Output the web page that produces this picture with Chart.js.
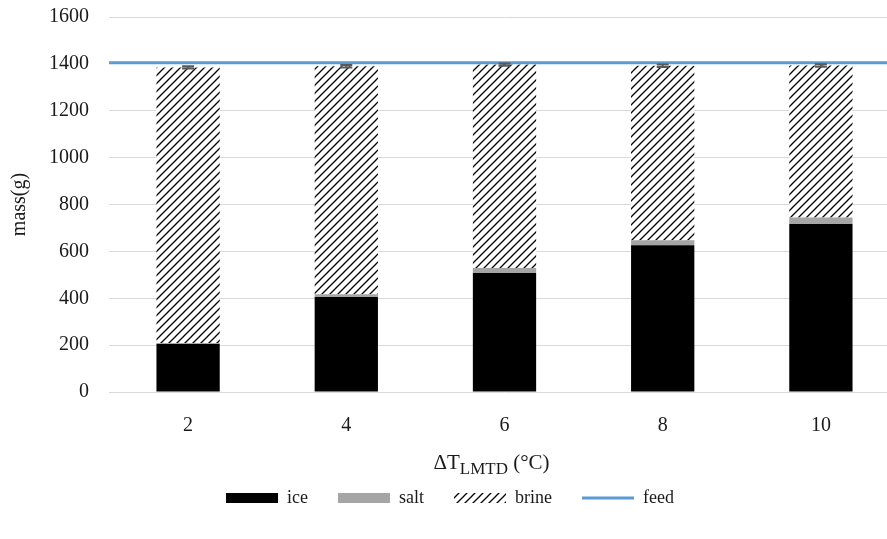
<!DOCTYPE html>
<html>
<head>
<meta charset="utf-8">
<script src="https://cdn.jsdelivr.net/npm/chart.js@4"></script>
<style>
  body { margin: 0; background: #fff; overflow: hidden; }
  #wrap { width: 900px; height: 539px; }
</style>
</head>
<body>
<div id="wrap"><canvas id="chart" width="900" height="539"></canvas></div>
<script>
// data
const categories = ['2', '4', '6', '8', '10'];
const ice = [205, 405, 508, 626, 717];
const salt = [4, 12, 21, 21, 28];
const brine = [1176, 973, 868, 745, 648];
const errors = [5, 5, 5, 5, 5];
const feed = 1405;
const yTicks = [0, 200, 400, 600, 800, 1000, 1200, 1400, 1600];

const serif = "'Liberation Serif', 'Times New Roman', serif";

// hatch for the brine part
function makeHatch() {
  const c = document.createElement('canvas');
  c.width = 8; c.height = 8;
  const g = c.getContext('2d');
  g.fillStyle = '#fff';
  g.fillRect(0, 0, 8, 8);
  g.strokeStyle = '#000';
  g.lineWidth = 1.3;
  g.beginPath();
  g.moveTo(-1, 9); g.lineTo(9, -1);
  g.moveTo(-1, 1); g.lineTo(1, -1);
  g.moveTo(7, 9); g.lineTo(9, 7);
  g.stroke();
  return g.createPattern(c, 'repeat');
}
const hatch = makeHatch();

// little error bars on top of each stack
const errorBars = {
  id: 'errorBars',
  afterDatasetsDraw(chart) {
    const ctx = chart.ctx;
    const y = chart.scales.y;
    const meta = chart.getDatasetMeta(2);
    ctx.save();
    ctx.strokeStyle = '#595959';
    ctx.lineWidth = 2;
    meta.data.forEach((bar, i) => {
      const total = ice[i] + salt[i] + brine[i];
      const top = y.getPixelForValue(total + errors[i]);
      const bot = y.getPixelForValue(total - errors[i]);
      ctx.beginPath();
      ctx.moveTo(bar.x, top); ctx.lineTo(bar.x, bot);
      ctx.moveTo(bar.x - 6, top); ctx.lineTo(bar.x + 6, top);
      ctx.moveTo(bar.x - 6, bot); ctx.lineTo(bar.x + 6, bot);
      ctx.stroke();
    });
    ctx.restore();
  }
};

// x axis title with the LMTD subscript
const xTitle = {
  id: 'xTitle',
  afterDraw(chart) {
    const ctx = chart.ctx;
    const a = chart.chartArea;
    const parts = [['ΔT', 21, 0], ['LMTD', 17, 5], [' (°C)', 21, 0]];
    let w = 0;
    parts.forEach(p => { ctx.font = p[1] + 'px ' + serif; w += ctx.measureText(p[0]).width; });
    let x = (a.left + a.right) / 2 - 13 - w / 2;
    const yBase = 469;
    ctx.save();
    ctx.fillStyle = '#1a1a1a';
    ctx.textBaseline = 'alphabetic';
    parts.forEach(p => {
      ctx.font = p[1] + 'px ' + serif;
      ctx.fillText(p[0], x, yBase + p[2]);
      x += ctx.measureText(p[0]).width;
    });
    ctx.restore();
  }
};

new Chart(document.getElementById('chart'), {
  data: {
    labels: categories,
    datasets: [
      { type: 'bar', label: 'ice', data: ice, backgroundColor: '#000000', stack: 's' },
      { type: 'bar', label: 'salt', data: salt, backgroundColor: '#a5a5a5', stack: 's' },
      { type: 'bar', label: 'brine', data: brine, backgroundColor: hatch, stack: 's' },
      {
        type: 'line', label: 'feed', xAxisID: 'x2', stack: 'feed', order: -1,
        data: [{ x: 0, y: feed }, { x: 1, y: feed }],
        borderColor: '#5b9bd5', backgroundColor: '#5b9bd5', borderWidth: 3,
        pointRadius: 0, fill: false
      }
    ]
  },
  options: {
    responsive: false,
    animation: false,
    layout: { padding: { top: 4, left: 0, right: 0, bottom: 22 } },
    datasets: { bar: { barPercentage: 0.4, categoryPercentage: 1, grouped: false } },
    scales: {
      x: {
        stacked: true,
        grid: { display: false },
        border: { display: false },
        ticks: { color: '#1a1a1a', font: { family: serif, size: 20 }, padding: 14 },
        afterFit(s) { s.height = 67; }
      },
      x2: { type: 'linear', min: 0, max: 1, display: false },
      y: {
        stacked: true,
        min: 0, max: 1600,
        afterBuildTicks(s) { s.ticks = yTicks.map(v => ({ value: v })); },
        grid: { color: '#d9d9d9', lineWidth: 1, drawTicks: true, tickLength: 15, tickColor: 'rgba(0,0,0,0)' },
        border: { display: false },
        ticks: { color: '#1a1a1a', font: { family: serif, size: 20 }, padding: 5, callback: v => String(v) },
        title: { display: true, text: 'mass(g)', color: '#1a1a1a', font: { family: serif, size: 20 }, padding: { top: 8, bottom: 0 } },
        afterFit(s) { s.width = 109; }
      }
    },
    plugins: {
      legend: {
        position: 'bottom',
        labels: {
          usePointStyle: true,
          pointStyleWidth: 52,
          boxHeight: 10,
          padding: 30,
          color: '#1a1a1a',
          font: { family: serif, size: 18 },
          sort: (a, b) => a.datasetIndex - b.datasetIndex,
          generateLabels(chart) {
            const items = Chart.defaults.plugins.legend.labels.generateLabels(chart);
            items.forEach(it => { it.pointStyle = it.text === 'feed' ? 'line' : 'rect'; if (it.text !== 'feed') it.lineWidth = 0; });
            return items;
          }
        }
      },
      tooltip: { enabled: false }
    }
  },
  plugins: [errorBars, xTitle]
});
</script>
</body>
</html>
